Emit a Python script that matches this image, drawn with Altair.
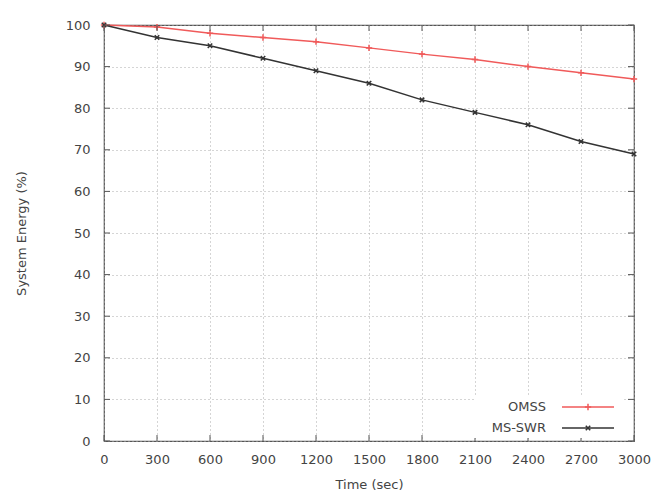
import altair as alt
import pandas as pd

times = [0, 300, 600, 900, 1200, 1500, 1800, 2100, 2400, 2700, 3000]
omss = [100, 99.5, 98, 97, 96, 94.5, 93, 91.7, 90, 88.5, 87]
msswr = [100, 97, 95, 92, 89, 86, 82, 79, 76, 72, 69]
series_names = ["OMSS", "MS-SWR"]
series_colors = ["#f05a5a", "#333333"]
y_ticks = [0, 10, 20, 30, 40, 50, 60, 70, 80, 90, 100]

rows = []
for t, a, b in zip(times, omss, msswr):
    rows.append({"time": t, "value": a, "series": "OMSS"})
    rows.append({"time": t, "value": b, "series": "MS-SWR"})
df = pd.DataFrame(rows)

FONT = "DejaVu Sans"
TXT = "#444444"
W, H = 530, 416

xscale = alt.Scale(domain=[0, 3000], nice=False, zero=False)
yscale = alt.Scale(domain=[0, 100], nice=False)
X_plain = lambda: alt.X("time:Q", scale=xscale)
Y_plain = lambda: alt.Y("value:Q", scale=yscale)

lines = alt.Chart(df).mark_line(strokeWidth=1.5).encode(
    x=alt.X("time:Q", scale=xscale,
            axis=alt.Axis(values=times, format="d", labelOverlap=False,
                          labelFlush=False,
                          title="Time (sec)", grid=True,
                          gridDash=[1, 3], gridColor="#aaaaaa", gridOpacity=1,
                          ticks=False, domain=False, labelPadding=12,
                          labelFontSize=13, labelColor=TXT, labelFont=FONT,
                          titleFont=FONT, titleFontSize=13, titleColor=TXT,
                          titleFontWeight="normal", titlePadding=12)),
    y=alt.Y("value:Q", scale=yscale,
            axis=alt.Axis(values=y_ticks, format="d", labelOverlap=False,
                          labelFlush=False,
                          title="System Energy (%)", grid=True,
                          gridDash=[1, 3], gridColor="#aaaaaa", gridOpacity=1,
                          ticks=False, domain=False, labelPadding=14,
                          labelFontSize=13, labelColor=TXT, labelFont=FONT,
                          titleFont=FONT, titleFontSize=13, titleColor=TXT,
                          titleFontWeight="normal", titlePadding=37)),
    color=alt.Color("series:N", scale=alt.Scale(domain=series_names, range=series_colors), legend=None),
    detail="series:N",
)

PLUS = "M-1,0L1,0M0,-1L0,1"
XSHAPE = "M-1,-1L1,1M-1,1L1,-1"

pts_omss = alt.Chart(df[df.series == "OMSS"]).mark_point(
    shape=PLUS, size=40, filled=False, strokeWidth=1.5, color=series_colors[0], opacity=1
).encode(x=X_plain(), y=Y_plain())

pts_ms = alt.Chart(df[df.series == "MS-SWR"]).mark_point(
    shape=XSHAPE, size=20, filled=False, strokeWidth=1.5, color=series_colors[1], opacity=1
).encode(x=X_plain(), y=Y_plain())

# inward ticks (mirrored on all four sides)
tdf = pd.DataFrame({"time": times})
ydf = pd.DataFrame({"value": y_ticks})
tick_style = dict(color="#555555", strokeWidth=1)
xt_bottom = alt.Chart(tdf).mark_rule(**tick_style).encode(
    x=X_plain(), y=alt.value(H), y2=alt.value(H - 6))
xt_top = alt.Chart(tdf).mark_rule(**tick_style).encode(
    x=X_plain(), y=alt.value(0), y2=alt.value(6))
yt_left = alt.Chart(ydf).mark_rule(**tick_style).encode(
    y=Y_plain(), x=alt.value(0), x2=alt.value(6))
yt_right = alt.Chart(ydf).mark_rule(**tick_style).encode(
    y=Y_plain(), x=alt.value(W), x2=alt.value(W - 6))

# key box
one = pd.DataFrame({"a": [0]})
leg_bg = alt.Chart(one).mark_rect(color="white").encode(
    x=alt.value(370), x2=alt.value(519), y=alt.value(370), y2=alt.value(413))

leg_layers = []
ROW_Y = [382, 403]
SHAPES = [PLUS, XSHAPE]
SIZES = [40, 20]
for i, name in enumerate(series_names):
    d = pd.DataFrame({"series": [name]})
    leg_layers.append(alt.Chart(d).mark_rule(strokeWidth=1.5, color=series_colors[i]).encode(
        x=alt.value(458), x2=alt.value(510), y=alt.value(ROW_Y[i])))
    leg_layers.append(alt.Chart(d).mark_point(
        shape=SHAPES[i], size=SIZES[i], filled=False, strokeWidth=1.5,
        color=series_colors[i], opacity=1).encode(x=alt.value(484), y=alt.value(ROW_Y[i])))
    leg_layers.append(alt.Chart(d).mark_text(
        align="right", baseline="middle", font=FONT, fontSize=13, color=TXT
    ).encode(text="series:N", x=alt.value(442), y=alt.value(ROW_Y[i])))

chart = alt.layer(
    lines, pts_omss, pts_ms, xt_bottom, xt_top, yt_left, yt_right,
    leg_bg, *leg_layers
).properties(
    width=W, height=H,
    autosize=alt.AutoSizeParams(type="none"),
    padding={"left": 96, "top": 17, "right": 17, "bottom": 51},
    background="white",
).configure_view(stroke="#555555", strokeWidth=1.2)

chart.save("out.html", embed_options={"renderer": "svg", "actions": False})
